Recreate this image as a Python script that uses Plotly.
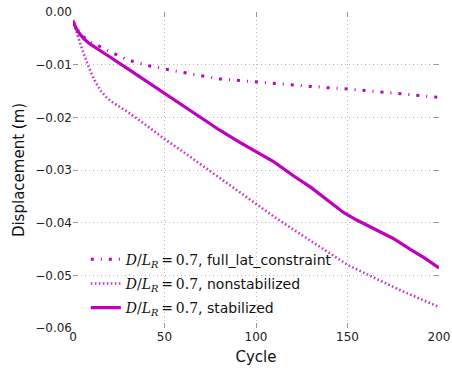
import plotly.graph_objects as go

# ---- data ----
cyc_full = [0, 2, 5, 9, 15, 20, 30, 40, 50, 60, 70, 80, 90, 100, 110, 120, 130, 140, 150, 160, 170, 180, 190, 200]
disp_full = [-0.0018, -0.0030, -0.0045, -0.0056, -0.0066, -0.0075, -0.0091, -0.0101, -0.0108, -0.0115,
             -0.0121, -0.0127, -0.0130, -0.0133, -0.0136, -0.0139, -0.0142, -0.0144, -0.0146, -0.0149,
             -0.0152, -0.0155, -0.0158, -0.0162]

cyc_non = [0, 1, 3, 5, 7, 9, 12, 15, 18, 21, 25, 30, 40, 50, 60, 70, 80, 90, 100, 110, 120, 130, 140, 150,
           160, 170, 180, 190, 200]
disp_non = [-0.0015, -0.0028, -0.0050, -0.0071, -0.0091, -0.0108, -0.0131, -0.0149, -0.0161, -0.0170,
            -0.0179, -0.0190, -0.0215, -0.0241, -0.0265, -0.0290, -0.0315, -0.0340, -0.0365, -0.0389,
            -0.0412, -0.0435, -0.0458, -0.0480, -0.0497, -0.0514, -0.0530, -0.0545, -0.0560]

cyc_stab = [0, 2, 4, 6, 9, 15, 20, 30, 40, 50, 60, 70, 80, 90, 100, 110, 120, 130, 140, 148, 155, 165, 175,
            185, 192, 200]
disp_stab = [-0.0018, -0.0033, -0.0043, -0.0051, -0.0060, -0.0073, -0.0085, -0.0108, -0.0131, -0.0154,
             -0.0177, -0.0200, -0.0224, -0.0245, -0.0265, -0.0285, -0.0310, -0.0333, -0.0360, -0.0381,
             -0.0395, -0.0412, -0.0430, -0.0452, -0.0467, -0.0486]

x_ticks = [0, 50, 100, 150, 200]
x_ticktext = ["0", "50", "100", "150", "200"]
y_ticks = [0.0, -0.01, -0.02, -0.03, -0.04, -0.05, -0.06]
y_ticktext = ["0.00", "\u22120.01", "\u22120.02", "\u22120.03", "\u22120.04", "\u22120.05", "\u22120.06"]

names = ["full_lat_constraint", "nonstabilized", "stabilized"]
MAG = "#bf00bf"

def label(suffix):
    m = ('<span style="font-family:DejaVu Serif"><i>D</i>/<i>L</i><sub><i>R</i></sub>'
         '\u2009=\u20090.7</span>')
    return m + ", " + suffix

fig = go.Figure()
fig.add_trace(go.Scatter(x=cyc_full, y=disp_full, mode="lines", name=label(names[0]), legendgroup="a",
                         line=dict(color=MAG, width=3, dash="3px,7px,1px,7px")))
fig.add_trace(go.Scatter(x=cyc_non, y=disp_non, mode="lines", name=label(names[1]), legendgroup="b",
                         line=dict(color="#cc33cc", width=2.6, dash="1.6px,2.4px")))
fig.add_trace(go.Scatter(x=cyc_stab, y=disp_stab, mode="lines", name=label(names[2]), legendgroup="c",
                         line=dict(color=MAG, width=3.2)))

axis_common = dict(showgrid=True, gridcolor="#bbbbbb", griddash="1px,3px", gridwidth=1,
                   zeroline=False, showline=False, ticks="inside", ticklen=5, tickcolor="#999999",
                   tickwidth=1, mirror="ticks", automargin=False,
                   tickfont=dict(family="DejaVu Sans", size=12, color="#222222"))

fig.update_xaxes(range=[0, 200], tickvals=x_ticks, ticktext=x_ticktext,
                 title=dict(text="Cycle", font=dict(family="DejaVu Sans", size=15, color="#111111"),
                            standoff=8), **axis_common)
fig.update_yaxes(range=[-0.06, 0.0], tickvals=y_ticks, ticktext=y_ticktext,
                 title=dict(text="Displacement (m)", font=dict(family="DejaVu Sans", size=15, color="#111111"),
                            standoff=6), **axis_common)

fig.update_layout(
    width=452, height=368,
    margin=dict(l=73, r=13, t=12, b=40),
    plot_bgcolor="white", paper_bgcolor="white",
    font=dict(family="DejaVu Sans", size=13, color="#111111"),
    legend=dict(x=0.035, y=0.267, xanchor="left", yanchor="top", bgcolor="rgba(0,0,0,0)",
                borderwidth=0, font=dict(family="DejaVu Sans", size=14, color="#111111"),
                traceorder="grouped", tracegroupgap=3),
    showlegend=True,
)

fig.write_html("out.html")
